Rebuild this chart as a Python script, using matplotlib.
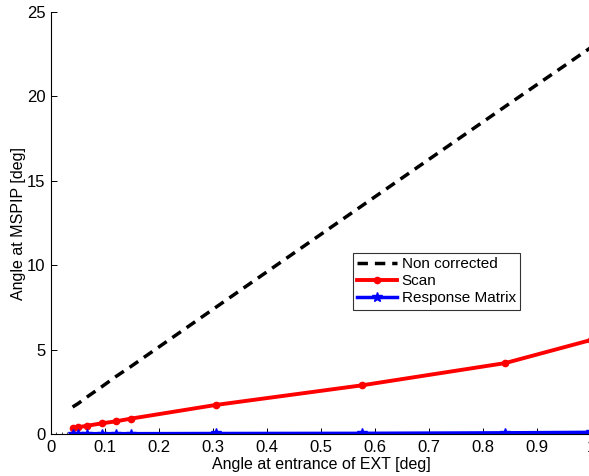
import numpy as np
import matplotlib
matplotlib.use("Agg")
import matplotlib.pyplot as plt
from matplotlib.ticker import MultipleLocator

plt.rcParams['font.family'] = ['Liberation Sans', 'DejaVu Sans']

# angle at entrance of EXT [deg]
angle_in = [0.040, 0.050, 0.067, 0.094, 0.120, 0.148, 0.305, 0.575, 0.841, 1.0]
# angle at MSPIP [deg]
non_corrected = [1.6, 1.8, 2.2, 2.8, 3.4, 4.0, 7.5, 13.5, 19.4, 22.9]
scan = [0.34, 0.40, 0.49, 0.63, 0.75, 0.91, 1.72, 2.88, 4.2, 5.57]
resp_matrix = [0.02, 0.02, 0.02, 0.02, 0.02, 0.02, 0.03, 0.04, 0.07, 0.1]

fig = plt.figure(figsize=(5.89, 4.76), dpi=100)
ax = fig.add_axes([51 / 589, 42 / 476, 540 / 589, 422 / 476])

ax.plot(angle_in, non_corrected, '--', color='black', lw=2.5,
        dashes=(3, 2), label='Non corrected')
ax.plot(angle_in, scan, '-', color='red', lw=2.8, marker='o', ms=4.5,
        label='Scan')
ax.plot(angle_in, resp_matrix, '-', color='blue', lw=2.5, marker='*', ms=7,
        label='Response Matrix')

ax.set_xlim(0, 1)
ax.set_ylim(0, 25)
ax.set_xticks(np.arange(0, 1.01, 0.1))
ax.set_xticklabels(['0', '0.1', '0.2', '0.3', '0.4', '0.5', '0.6', '0.7',
                    '0.8', '0.9', '1'])
ax.set_yticks([0, 5, 10, 15, 20, 25])
ax.xaxis.set_minor_locator(MultipleLocator(0.01))
ax.tick_params(direction='in', labelsize=12, length=4, width=0.7, pad=4)
ax.tick_params(which='minor', direction='in', length=1.5, width=0.5)
ax.spines['top'].set_visible(False)
ax.spines['right'].set_visible(False)
ax.set_xlabel('Angle at entrance of EXT [deg]', fontsize=11.5)
ax.set_ylabel('Angle at MSPIP [deg]', fontsize=11.5)
ax.xaxis.set_label_coords(0.5, -0.055)
ax.yaxis.set_label_coords(-0.047, 0.5)

leg = ax.legend(loc='upper left', bbox_to_anchor=(0.559, 0.43), fontsize=11,
                frameon=True, fancybox=False, edgecolor='black',
                borderpad=0.3, labelspacing=0.2, handlelength=2.6,
                handletextpad=0.3, borderaxespad=0)
leg.get_frame().set_linewidth(0.8)

fig.savefig('out.png', dpi=100)
